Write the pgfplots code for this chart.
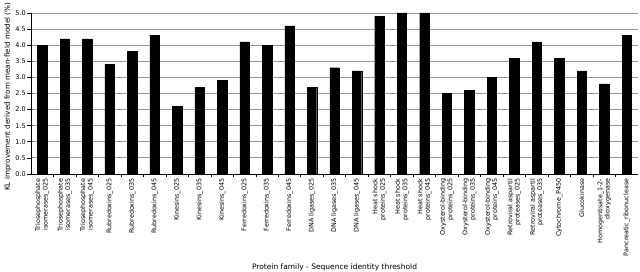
\documentclass[border=0pt]{standalone}
\usepackage{pgfplots}
\pgfplotsset{compat=1.18}
\usepackage{fontspec}
\setmainfont{DejaVu Sans}
\begin{document}
\begin{tikzpicture}[x=1pt,y=1pt]
\path[use as bounding box] (-31pt,-98pt) rectangle (609pt,174pt);
\begin{axis}[
  at={(0,0)}, anchor=south west,
  scale only axis, width=607pt, height=161pt,
  xmin=-0.5, xmax=26.5, ymin=0, ymax=5,
  axis lines*=left,
  axis line style={black, line width=0.8pt},
  ybar, bar width=0.42, bar shift=0pt,
  xtick={0,...,26},
  minor xtick={0.5,1.5,...,25.5},
  major x tick style={draw=none},
  minor x tick style={black, line width=0.6pt},
  tick align=outside,
  major tick length=3.5pt, minor tick length=3pt,
  ytick={0,0.5,...,5},
  y tick style={black, line width=0.6pt},
  ymajorgrids, grid style={gray!80, line width=0.8pt},
  /pgf/number format/assume math mode=true,
  yticklabel style={font=\fontsize{6.5}{7}\selectfont, inner sep=1.5pt, /pgf/number format/fixed, /pgf/number format/fixed zerofill, /pgf/number format/precision=1},
  xticklabels={{Triosephosphate\\isomerases\_025},{Triosephosphate\\isomerases\_035},{Triosephosphate\\isomerases\_045},
    Rubredoxins\_025,Rubredoxins\_035,Rubredoxins\_045,
    Kinesins\_025,Kinesins\_035,Kinesins\_045,
    Ferredoxins\_025,Ferredoxins\_035,Ferredoxins\_045,
    DNA ligases\_025,DNA ligases\_035,DNA ligases\_045,
    {Heat shock\\proteins\_025},{Heat shock\\proteins\_035},{Heat shock\\proteins\_045},
    {Oxysterol-binding\\proteins\_025},{Oxysterol-binding\\proteins\_035},{Oxysterol-binding\\proteins\_045},
    {Retroviral aspartil\\proteases\_025},{Retroviral aspartil\\proteases\_035},
    Cytochrome\_P450,Glucokinase,{Homogentisate\_1-2-\\dioxygenase},Pancreatic\_ribonuclease},
  xticklabel style={rotate=90, anchor=east, align=right, font=\fontsize{6.4}{7.4}\selectfont, inner sep=1pt},
  xlabel={Protein family - Sequence identity threshold},
  xlabel style={font=\fontsize{7.5}{8}\selectfont, at={(axis description cs:0.5,0)}, anchor=center, yshift=-93pt},
  ylabel={KL improvement derived from mean-field model (\%)},
  ylabel style={font=\fontsize{7.2}{8}\selectfont, at={(axis description cs:0,0.48)}, anchor=center, yshift=23pt},
  clip=false,
]
\addplot[fill=black, draw=black] coordinates {
(0,4.0) (1,4.2) (2,4.2) (3,3.4) (4,3.8) (5,4.3) (6,2.1) (7,2.7) (8,2.9)
(9,4.1) (10,4.0) (11,4.6) (12,2.7) (13,3.3) (14,3.2) (15,4.9) (16,5.0) (17,5.0)
(18,2.5) (19,2.6) (20,3.0) (21,3.6) (22,4.1) (23,3.6) (24,3.2) (25,2.8) (26,4.3)
};
\end{axis}
\end{tikzpicture}
\end{document}
